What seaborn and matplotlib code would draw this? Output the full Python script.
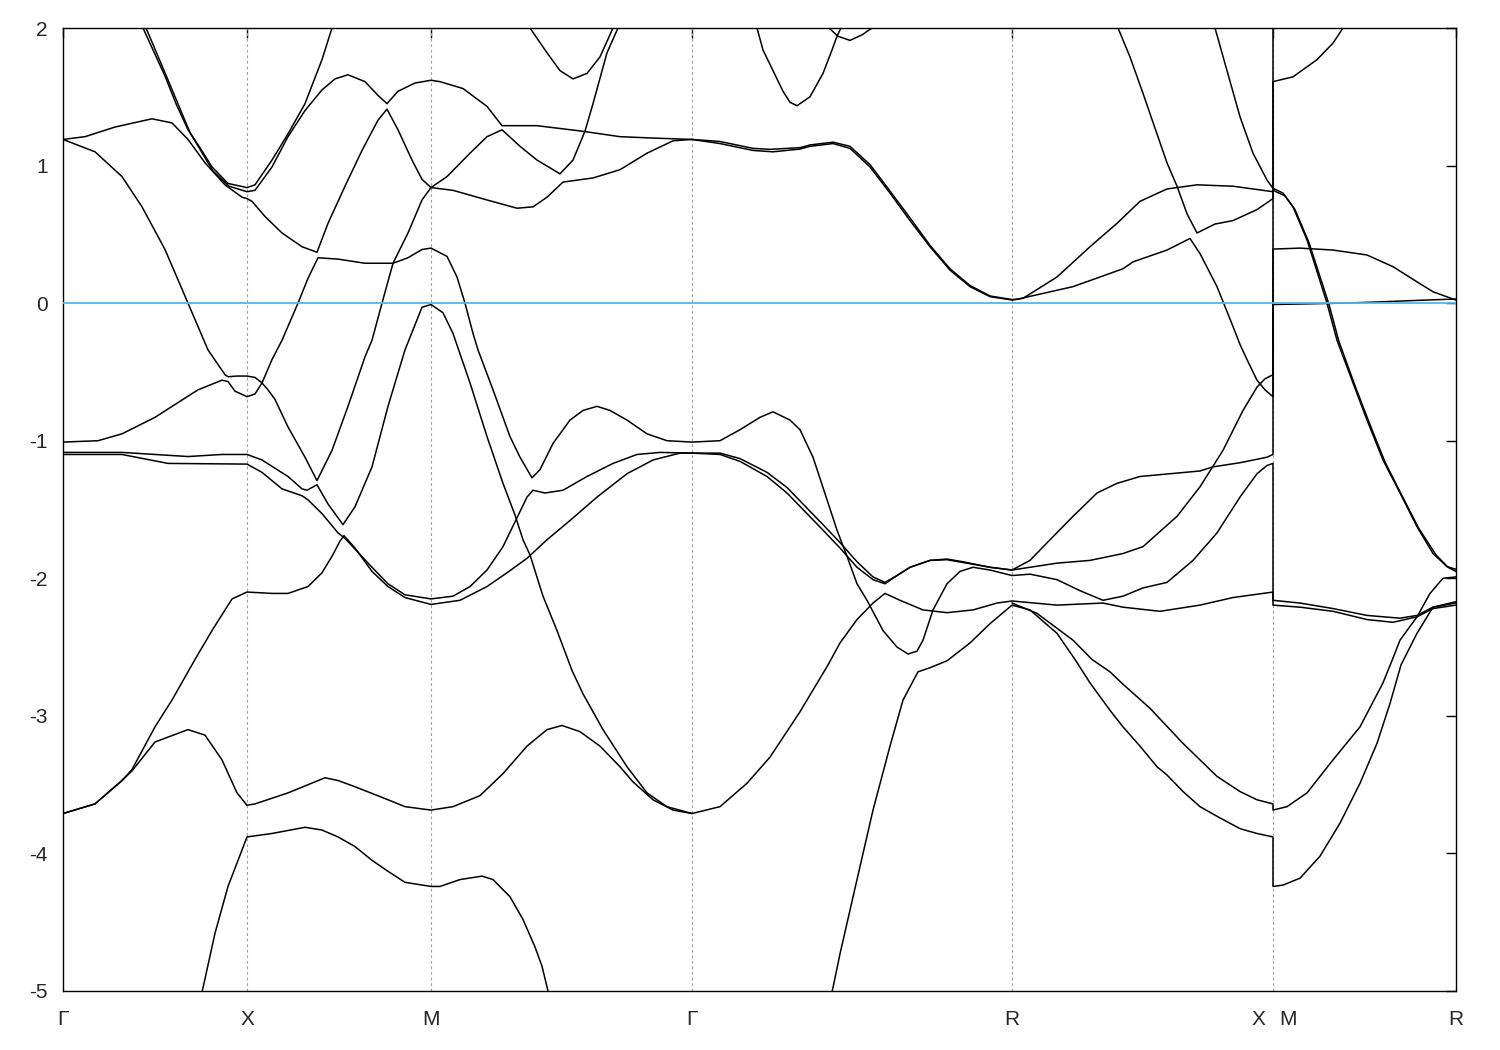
import matplotlib
matplotlib.use("Agg")
import matplotlib.pyplot as plt
import pandas as pd
import seaborn as sns

# high-symmetry points along the path (k in path-length units)
SYM_K = [0.0, 1.84, 3.68, 6.29, 9.49, 12.10, 13.93]
SYM_LABELS = ["Γ", "X", "M", "Γ", "R", "", "R"]
XM_K = [11.95, 12.25]          # label positions for the X|M jump
XM_LABELS = ["X", "M"]
E_TICKS = [-5, -4, -3, -2, -1, 0, 1, 2]
FERMI = 0.0

# ---- bands (k, E in eV) ----
K_01 = [0.79, 0.80, 1.02, 1.13, 1.25, 1.37, 1.49, 1.65, 1.84, 1.92, 2.09, 2.25, 2.42, 2.59, 2.69, 2.71]
E_01 = [2.05, 2.00, 1.65, 1.45, 1.26, 1.13, 0.99, 0.87, 0.84, 0.86, 1.04, 1.23, 1.45, 1.77, 2.00, 2.05]

K_02 = [0.82, 0.83, 1.04, 1.27, 1.50, 1.66, 1.84, 1.92, 2.09, 2.25, 2.42, 2.59, 2.72, 2.85, 3.02,
        3.15, 3.24, 3.35, 3.52, 3.68, 3.77, 4.00, 4.24, 4.39, 4.74, 5.19, 5.57, 5.90, 6.29]
E_02 = [2.05, 2.00, 1.64, 1.24, 0.96, 0.85, 0.81, 0.82, 0.99, 1.21, 1.40, 1.55, 1.63, 1.66, 1.61,
        1.51, 1.45, 1.54, 1.60, 1.62, 1.61, 1.56, 1.43, 1.29, 1.29, 1.25, 1.21, 1.20, 1.19]

K_03 = [0.00, 0.22, 0.52, 0.89, 1.09, 1.25, 1.42, 1.62, 1.79, 1.84, 1.89, 2.02, 2.19, 2.39, 2.54,
        2.65, 2.82, 2.99, 3.15, 3.24, 3.35, 3.49, 3.59, 3.68, 3.90, 4.24, 4.54, 4.70, 4.84, 5.00,
        5.30, 5.57, 5.84, 6.10, 6.29]
E_03 = [1.19, 1.21, 1.28, 1.34, 1.31, 1.19, 1.02, 0.86, 0.77, 0.76, 0.74, 0.63, 0.51, 0.41, 0.37,
        0.58, 0.85, 1.11, 1.33, 1.41, 1.26, 1.04, 0.90, 0.84, 0.82, 0.75, 0.69, 0.70, 0.77, 0.88,
        0.91, 0.97, 1.09, 1.18, 1.19]

K_04 = [0.00, 0.35, 0.59, 0.92, 1.35, 1.59, 1.65, 1.72, 1.84, 1.92, 1.99, 2.05, 2.12, 2.25, 2.42,
        2.54, 2.69, 2.85, 3.02, 3.09, 3.19, 3.30, 3.45, 3.59, 3.68, 3.84, 4.07, 4.24, 4.39, 4.57,
        4.74, 4.97, 5.10, 5.22, 5.30, 5.44, 5.55, 5.57]
E_04 = [-1.01, -1.00, -0.95, -0.83, -0.63, -0.56, -0.57, -0.64, -0.68, -0.66, -0.58, -0.63, -0.70, -0.90, -1.12,
        -1.29, -1.07, -0.75, -0.39, -0.27, 0.00, 0.29, 0.51, 0.75, 0.84, 0.92, 1.09, 1.21, 1.26, 1.14,
        1.04, 0.94, 1.04, 1.25, 1.45, 1.82, 2.00, 2.05]

K_05 = [0.00, 0.32, 0.59, 0.79, 1.02, 1.25, 1.45, 1.62, 1.65, 1.74, 1.84, 1.92, 1.99, 2.09, 2.19,
        2.35, 2.45, 2.55, 2.75, 3.02, 3.30, 3.45, 3.59, 3.68,
        3.84, 3.94, 4.02, 4.10, 4.15, 4.30, 4.47, 4.57, 4.69, 4.77, 4.90, 5.07, 5.20, 5.34, 5.47,
        5.64, 5.84, 6.04, 6.29,
        6.57, 6.77, 6.97, 7.10, 7.27, 7.37, 7.50, 7.60, 7.74, 7.84, 7.94, 8.04, 8.20, 8.34, 8.45,
        8.54, 8.60, 8.70, 8.84, 8.97, 9.10, 9.27, 9.49,
        9.67, 9.94, 10.17, 10.40, 10.60, 10.80, 11.04, 11.30, 11.54, 11.77, 11.94, 12.04, 12.10,
        12.10, 12.37, 12.70, 13.04, 13.37, 13.54, 13.70, 13.93]
E_05 = [1.19, 1.10, 0.92, 0.70, 0.39, 0.00, -0.34, -0.52, -0.535, -0.53, -0.53, -0.54, -0.58, -0.41, -0.27,
        0.00, 0.18, 0.33, 0.32, 0.29, 0.29, 0.33, 0.39, 0.40,
        0.34, 0.19, 0.00, -0.22, -0.34, -0.63, -0.97, -1.12, -1.27, -1.21, -1.02, -0.85, -0.78, -0.75, -0.78,
        -0.85, -0.95, -1.00, -1.01,
        -1.00, -0.92, -0.83, -0.79, -0.85, -0.92, -1.12, -1.34, -1.65, -1.84, -2.04, -2.16, -2.38, -2.50, -2.55,
        -2.53, -2.45, -2.23, -2.04, -1.95, -1.92, -1.94, -1.98,
        -1.97, -2.01, -2.09, -2.16, -2.13, -2.07, -2.03, -1.87, -1.67, -1.41, -1.24, -1.18, -1.165,
        -2.16, -2.18, -2.22, -2.27, -2.29, -2.27, -2.21, -2.17]

K_06 = [0.00, 0.59, 1.25, 1.59, 1.84,
        1.99, 2.12, 2.25, 2.39, 2.44, 2.54, 2.65, 2.80, 2.92, 3.09, 3.25, 3.42, 3.59, 3.68,
        3.80, 3.90, 4.07, 4.24, 4.40, 4.52, 4.60, 4.67, 4.80, 4.94, 5.09, 5.20, 5.40, 5.64, 5.84,
        6.04, 6.29,
        6.57, 6.84, 7.07, 7.27, 7.37, 7.65, 7.77, 7.94, 8.10, 8.22, 8.37, 8.60, 8.84, 9.10, 9.34, 9.49,
        9.94, 10.40, 10.60, 10.97, 11.37, 11.70, 12.10,
        12.10, 12.37, 12.70, 13.04, 13.30, 13.54, 13.70, 13.93]
E_06 = [-1.085, -1.085, -1.115, -1.10, -1.10,
        -1.14, -1.20, -1.26, -1.35, -1.36, -1.32, -1.46, -1.61, -1.48, -1.19, -0.75, -0.34, -0.03, -0.01,
        -0.07, -0.22, -0.58, -0.97, -1.31, -1.54, -1.72, -1.83, -2.13, -2.38, -2.67, -2.84, -3.10, -3.37, -3.56,
        -3.66, -3.71,
        -3.66, -3.49, -3.30, -3.08, -2.97, -2.63, -2.47, -2.30, -2.18, -2.11, -2.16, -2.23, -2.25, -2.23, -2.18, -2.165,
        -2.195, -2.18, -2.21, -2.24, -2.195, -2.14, -2.10,
        -2.195, -2.21, -2.24, -2.30, -2.32, -2.28, -2.22, -2.195]

K_07 = [0.00, 0.59, 1.05, 1.84,
        1.99, 2.19, 2.39, 2.45, 2.59, 2.75, 2.82, 3.09, 3.25, 3.42, 3.68,
        3.90, 4.07, 4.24, 4.40, 4.52, 4.64, 4.70, 4.82, 5.00, 5.24, 5.50, 5.74, 5.97, 6.29,
        6.57, 6.77, 7.04, 7.24, 7.44, 7.60, 7.77, 7.94, 8.10, 8.22, 8.34, 8.47, 8.67, 8.84, 9.00,
        9.27, 9.49,
        9.67, 9.87, 10.10, 10.34, 10.54, 10.77, 11.07, 11.37, 11.50, 11.77, 12.04, 12.10,
        12.10, 12.80, 13.20, 13.54, 13.93]
E_07 = [-1.10, -1.10, -1.165, -1.17,
        -1.23, -1.35, -1.40, -1.43, -1.53, -1.67, -1.71, -1.92, -2.04, -2.12, -2.15,
        -2.13, -2.06, -1.94, -1.77, -1.59, -1.41, -1.36, -1.38, -1.36, -1.26, -1.165, -1.10, -1.085, -1.09,
        -1.10, -1.15, -1.26, -1.38, -1.53, -1.65, -1.78, -1.92, -2.01, -2.04, -1.98, -1.92, -1.87, -1.86, -1.88,
        -1.92, -1.94,
        -1.87, -1.72, -1.55, -1.38, -1.31, -1.26, -1.24, -1.22, -1.19, -1.16, -1.12, -1.10,
        -0.01, 0.00, 0.01, 0.02, 0.03]

K_08 = [0.00, 0.32, 0.59, 0.69, 0.92, 1.09, 1.32, 1.49, 1.69, 1.84,
        2.09, 2.25, 2.45, 2.59, 2.69, 2.77, 2.81, 2.92, 3.09, 3.25, 3.42, 3.68,
        3.97, 4.24, 4.44, 4.64, 4.84, 5.07, 5.34, 5.64, 5.90, 6.17, 6.29,
        6.57, 6.77, 7.04, 7.24, 7.44, 7.60, 7.77, 7.94, 8.10, 8.22, 8.34, 8.47, 8.67, 8.84, 9.00,
        9.27, 9.49,
        9.94, 10.27, 10.60, 10.80, 10.97, 11.14, 11.37, 11.60, 11.80, 11.94, 12.02, 12.10,
        12.10, 12.22, 12.32, 12.46, 12.66, 12.76, 12.92, 13.06, 13.22, 13.39, 13.56, 13.73, 13.85, 13.93]
E_08 = [-3.71, -3.64, -3.47, -3.39, -3.08, -2.885, -2.59, -2.38, -2.15, -2.10,
        -2.11, -2.11, -2.06, -1.96, -1.84, -1.73, -1.69, -1.78, -1.95, -2.06, -2.14, -2.19,
        -2.16, -2.06, -1.96, -1.855, -1.72, -1.58, -1.41, -1.24, -1.14, -1.09, -1.09,
        -1.09, -1.13, -1.23, -1.34, -1.49, -1.61, -1.74, -1.88, -1.99, -2.03, -1.98, -1.92, -1.87, -1.865, -1.885,
        -1.92, -1.94,
        -1.89, -1.87, -1.82, -1.77, -1.66, -1.55, -1.335, -1.07, -0.78, -0.61, -0.55, -0.52,
        0.82, 0.78, 0.68, 0.44, -0.01, -0.28, -0.60, -0.865, -1.155, -1.40, -1.64, -1.83, -1.92, -1.95]

K_09 = [0.00, 0.32, 0.59, 0.69, 0.92, 1.25, 1.42, 1.59, 1.74, 1.84,
        1.92, 2.25, 2.62, 2.75, 2.92, 3.25, 3.42, 3.68,
        3.90, 4.17, 4.40, 4.64, 4.84, 4.99, 5.17, 5.37, 5.57, 5.70, 5.90, 6.10, 6.29]
E_09 = [-3.71, -3.64, -3.47, -3.40, -3.19, -3.10, -3.14, -3.32, -3.56, -3.65,
        -3.64, -3.56, -3.45, -3.47, -3.515, -3.61, -3.66, -3.685,
        -3.66, -3.58, -3.42, -3.22, -3.10, -3.07, -3.115, -3.22, -3.37, -3.48, -3.61, -3.685, -3.71]

K_10 = [1.37, 1.39, 1.52, 1.65, 1.74, 1.84, 2.09, 2.42, 2.59, 2.75, 2.92, 3.09, 3.25, 3.42, 3.68,
        3.77, 3.97, 4.19, 4.30, 4.47, 4.60, 4.72, 4.79, 4.85, 4.88]
E_10 = [-5.06, -5.01, -4.58, -4.24, -4.07, -3.88, -3.855, -3.81, -3.83, -3.88, -3.95, -4.05, -4.13, -4.21, -4.24,
        -4.24, -4.19, -4.165, -4.19, -4.315, -4.48, -4.68, -4.82, -5.00, -5.06]

K_11 = [7.67, 7.69, 7.77, 7.94, 8.10, 8.27, 8.40, 8.55, 8.67, 8.84, 9.07, 9.27, 9.49,
        9.67, 9.94, 10.12, 10.27, 10.47, 10.60, 10.77, 10.94, 11.04, 11.20, 11.37, 11.54, 11.77, 11.94, 12.10,
        12.10, 12.20, 12.37, 12.57, 12.77, 12.97, 13.14, 13.27, 13.38, 13.54, 13.70, 13.93]
E_11 = [-5.06, -5.01, -4.73, -4.19, -3.685, -3.22, -2.885, -2.68, -2.65, -2.60, -2.47, -2.33, -2.195,
        -2.23, -2.40, -2.59, -2.76, -2.96, -3.08, -3.22, -3.37, -3.43, -3.55, -3.66, -3.73, -3.82, -3.855, -3.88,
        -4.24, -4.23, -4.18, -4.02, -3.78, -3.49, -3.20, -2.91, -2.63, -2.40, -2.21, -2.18]

K_12 = [9.49, 9.74, 10.10, 10.29, 10.47, 10.60, 10.87, 11.20, 11.54, 11.77, 11.94, 12.10,
        12.10, 12.24, 12.44, 12.70, 12.97, 13.20, 13.30, 13.37, 13.54, 13.67, 13.80, 13.93]
E_12 = [-2.18, -2.255, -2.45, -2.59, -2.68, -2.77, -2.945, -3.20, -3.44, -3.55, -3.61, -3.64,
        -3.685, -3.66, -3.56, -3.32, -3.08, -2.76, -2.58, -2.45, -2.28, -2.11, -2.00, -1.99]

K_13 = [6.29, 6.57, 6.90, 7.10, 7.37, 7.47, 7.70, 7.87, 8.07, 8.27, 8.47, 8.67, 8.87, 9.07, 9.27,
        9.49, 9.60, 9.94, 10.27, 10.54, 10.77, 11.04, 11.34, 11.70, 12.10,
        12.10, 12.30, 12.54, 12.70, 12.80, 12.83]
E_13 = [1.19, 1.16, 1.11, 1.10, 1.12, 1.14, 1.16, 1.125, 0.99, 0.80, 0.60, 0.41, 0.24, 0.12, 0.047,
        0.023, 0.035, 0.19, 0.41, 0.58, 0.74, 0.83, 0.86, 0.85, 0.81,
        1.61, 1.645, 1.77, 1.89, 2.00, 2.05]

K_14 = [6.29, 6.57, 6.90, 7.07, 7.37, 7.47, 7.70, 7.87, 8.07, 8.27, 8.47, 8.67, 8.87, 9.07, 9.27,
        9.49, 9.54, 10.10, 10.37, 10.60, 10.70, 11.04, 11.27, 11.37, 11.54, 11.70, 11.77, 11.84, 11.94, 12.02,
        12.10,
        12.10, 12.37, 12.70, 13.04, 13.30, 13.54, 13.70, 13.93]
E_14 = [1.19, 1.175, 1.125, 1.118, 1.13, 1.15, 1.17, 1.14, 1.007, 0.815, 0.62, 0.42, 0.25, 0.128, 0.052,
        0.026, 0.028, 0.12, 0.19, 0.25, 0.30, 0.386, 0.47, 0.36, 0.12, -0.17, -0.30, -0.41, -0.56, -0.63,
        -0.68,
        0.393, 0.40, 0.386, 0.35, 0.265, 0.155, 0.083, 0.022]

K_15 = [10.53, 10.55, 10.67, 10.80, 10.94, 11.04, 11.14, 11.24, 11.34, 11.52, 11.70, 11.94, 12.10,
        12.10, 12.20, 12.30, 12.44, 12.64, 12.74, 12.90, 13.04, 13.20, 13.37, 13.54, 13.70, 13.84, 13.93]
E_15 = [2.05, 2.00, 1.79, 1.525, 1.23, 1.02, 0.85, 0.65, 0.51, 0.575, 0.60, 0.68, 0.76,
        0.835, 0.80, 0.70, 0.46, 0.00, -0.27, -0.58, -0.85, -1.14, -1.38, -1.625, -1.82, -1.915, -1.935]

K_16 = [11.50, 11.52, 11.64, 11.77, 11.90, 12.04, 12.10, 12.10]
E_16 = [2.05, 2.00, 1.69, 1.355, 1.09, 0.895, 0.834, 2.10]

K_17 = [6.92, 6.94, 7.00, 7.10, 7.20, 7.27, 7.34, 7.47, 7.60, 7.69, 7.74, 7.78, 7.80]
E_17 = [2.05, 2.00, 1.84, 1.69, 1.54, 1.46, 1.435, 1.50, 1.67, 1.84, 1.94, 2.00, 2.05]

K_18 = [7.64, 7.66, 7.75, 7.87, 7.99, 8.09, 8.11]
E_18 = [2.05, 2.00, 1.94, 1.91, 1.95, 2.00, 2.05]

K_19 = [4.65, 4.67, 4.84, 4.97, 5.10, 5.24, 5.37, 5.50, 5.52]
E_19 = [2.05, 2.00, 1.82, 1.69, 1.63, 1.67, 1.79, 2.00, 2.05]


def main():
    bands = {
        "b01": (K_01, E_01), "b02": (K_02, E_02), "b03": (K_03, E_03), "b04": (K_04, E_04),
        "b05": (K_05, E_05), "b06": (K_06, E_06), "b07": (K_07, E_07), "b08": (K_08, E_08),
        "b09": (K_09, E_09), "b10": (K_10, E_10), "b11": (K_11, E_11), "b12": (K_12, E_12),
        "b13": (K_13, E_13), "b14": (K_14, E_14), "b15": (K_15, E_15), "b16": (K_16, E_16),
        "b17": (K_17, E_17), "b18": (K_18, E_18), "b19": (K_19, E_19),
    }
    df = pd.concat(
        [pd.DataFrame({"k": k, "E": e, "band": name}) for name, (k, e) in bands.items()],
        ignore_index=True,
    )

    sns.set_style("white")
    plt.rcParams["font.family"] = ["Liberation Sans", "DejaVu Sans"]
    plt.rcParams["axes.unicode_minus"] = False

    fig = plt.figure(figsize=(15, 10.5), dpi=100)
    ax = fig.add_axes([63 / 1500, 59 / 1050, 1393 / 1500, 963 / 1050])

    # dotted markers at the inner high-symmetry points
    for k in SYM_K[1:-1]:
        ax.axvline(k, color="#a0a0a0", lw=0.8, ls=(0, (2.5, 2.5)), zorder=1)

    sns.lineplot(data=df, x="k", y="E", units="band", estimator=None, sort=False,
                 color="black", linewidth=1.1, legend=False, ax=ax, zorder=2)

    ax.axhline(FERMI, color="#56b4e9", lw=1.3, zorder=3)

    ax.set_xlim(SYM_K[0], SYM_K[-1])
    ax.set_ylim(-5, 2)
    ax.set_xlabel("")
    ax.set_ylabel("")

    ax.set_xticks(SYM_K)
    ax.set_xticklabels(SYM_LABELS)
    ax.set_xticks(XM_K, minor=True)
    ax.set_xticklabels(XM_LABELS, minor=True)
    ax.set_yticks(E_TICKS)
    ax.set_yticklabels([str(t) for t in E_TICKS])

    ax.tick_params(which="major", direction="in", top=True, right=True,
                   length=7.2, width=1.0, labelsize=15, color="black")
    ax.tick_params(axis="x", which="major", pad=14)
    ax.tick_params(axis="y", which="major", pad=11)
    ax.tick_params(axis="x", which="minor", length=0, labelsize=15, pad=14, top=False)

    for sp in ax.spines.values():
        sp.set_color("black")
        sp.set_linewidth(1.0)

    fig.savefig("out.png", dpi=100, facecolor="white")


if __name__ == "__main__":
    main()
